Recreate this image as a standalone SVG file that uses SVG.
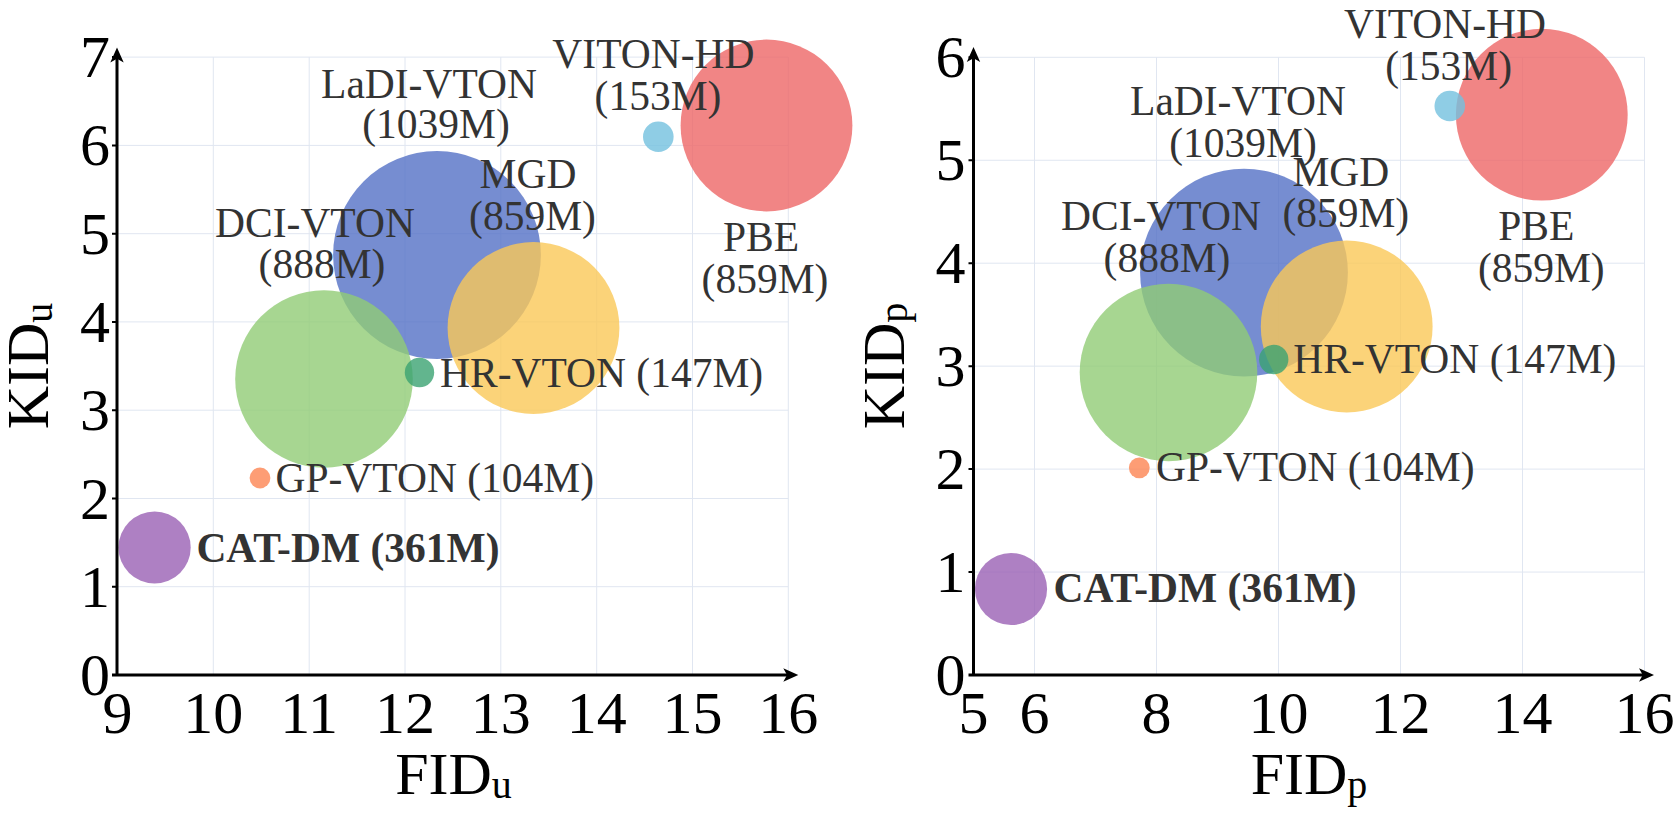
<svg xmlns="http://www.w3.org/2000/svg" width="1678" height="813" viewBox="0 0 1678 813">
<style>
.grid{stroke:#e0e6f1;stroke-width:1;fill:none}
.axis{stroke:#000;stroke-width:3;fill:none}
.tick{stroke:#000;stroke-width:2}
.tl{font-family:"Liberation Serif","Times New Roman",serif;font-size:60px;fill:#000}
.tly{text-anchor:end}
.tlx{text-anchor:middle}
.title{font-family:"Liberation Serif","Times New Roman",serif;font-size:60px;fill:#000;text-anchor:middle}
.sub{font-size:40px}
.lbl{font-family:"Liberation Serif","Times New Roman",serif;font-size:41.5px;fill:#333}
.c{text-anchor:middle}
.b{font-weight:bold}
.bub{fill-opacity:0.8}
</style>
<defs>
<path id="arrowR" d="M0,0 L-15,-6.7 L-11.25,0 L-15,6.7 Z" fill="#000"/>
<path id="arrowU" d="M0,0 L-6.7,15 L0,11.25 L6.7,15 Z" fill="#000"/>
</defs>

<!-- LEFT CHART -->
<g id="left-grid">
<path class="grid" d="M117,586.7H788.3M117,498.5H788.3M117,410.2H788.3M117,321.9H788.3M117,233.7H788.3M117,145.4H788.3M117,57.1H788.3"/>
<path class="grid" d="M213.3,57.1V675M309.2,57.1V675M405,57.1V675M500.8,57.1V675M596.7,57.1V675M692.5,57.1V675M788.3,57.1V675"/>
</g>
<g id="left-bubbles">
<circle id="l-pbe" class="bub" cx="766.5" cy="125.5" r="85.9" fill="#ee6666"/>
<circle id="l-viton" class="bub" cx="658.3" cy="136.7" r="15.3" fill="#73c0de"/>
<circle id="l-ladi" class="bub" cx="437" cy="255" r="103.9" fill="#5470c6"/>
<circle id="l-dci" class="bub" cx="324" cy="379" r="88.8" fill="#91cc75"/>
<circle id="l-mgd" class="bub" cx="533.5" cy="328" r="85.9" fill="#fac858"/>
<circle id="l-hr" class="bub" cx="419.5" cy="372.5" r="14.7" fill="#3ba272"/>
<circle id="l-gp" class="bub" cx="260" cy="478" r="10.4" fill="#fc8452"/>
<circle id="l-cat" class="bub" cx="154.6" cy="547.5" r="36.1" fill="#9a60b4"/>
</g>
<g id="left-axes">
<line class="axis" x1="117" y1="675" x2="117" y2="52"/>
<line class="axis" x1="112" y1="675" x2="792" y2="675"/>
<use href="#arrowU" x="117" y="47.5"/>
<use href="#arrowR" x="798.3" y="675"/>
<path class="tick" d="M112,586.7H117M112,498.5H117M112,410.2H117M112,321.9H117M112,233.7H117M112,145.4H117M112,57.1H117"/>
<g class="tl tly">
<text x="110" y="695">0</text>
<text x="110" y="606.7">1</text>
<text x="110" y="518.5">2</text>
<text x="110" y="430.2">3</text>
<text x="110" y="341.9">4</text>
<text x="110" y="253.7">5</text>
<text x="110" y="165.4">6</text>
<text x="110" y="77.1">7</text>
</g>
<g class="tl tlx">
<text x="117.5" y="733">9</text>
<text x="213.3" y="733">10</text>
<text x="309.2" y="733">11</text>
<text x="405" y="733">12</text>
<text x="500.8" y="733">13</text>
<text x="596.7" y="733">14</text>
<text x="692.5" y="733">15</text>
<text x="788.3" y="733">16</text>
</g>
<text class="title" x="453.5" y="794.3">FID<tspan class="sub" dy="3.5">u</tspan></text>
<text class="title" transform="translate(48,366) rotate(-90)">KID<tspan class="sub" dy="3.5">u</tspan></text>
</g>
<g id="left-labels" class="lbl">
<text class="c" x="429" y="98.3">LaDI-VTON</text>
<text class="c" x="436" y="138.3">(1039M)</text>
<text class="c" x="653.4" y="68.3">VITON-HD</text>
<text class="c" x="658" y="110">(153M)</text>
<text class="c" x="528" y="188.3">MGD</text>
<text class="c" x="532.5" y="230">(859M)</text>
<text class="c" x="761" y="250.7">PBE</text>
<text class="c" x="765" y="293.3">(859M)</text>
<text class="c" x="315" y="236.7">DCI-VTON</text>
<text class="c" x="322" y="278.3">(888M)</text>
<text x="440" y="386.7">HR-VTON (147M)</text>
<text x="275.5" y="491.7">GP-VTON (104M)</text>
<text class="b" x="196.4" y="561.7">CAT-DM (361M)</text>
</g>

<!-- RIGHT CHART -->
<g id="right-grid">
<path class="grid" d="M973.5,572.05H1644.5M973.5,469.1H1644.5M973.5,366.15H1644.5M973.5,263.2H1644.5M973.5,160.25H1644.5M973.5,57.3H1644.5"/>
<path class="grid" d="M1034.5,57.3V675M1156.5,57.3V675M1278.5,57.3V675M1400.5,57.3V675M1522.5,57.3V675M1644.5,57.3V675"/>
</g>
<g id="right-bubbles">
<circle id="r-pbe" class="bub" cx="1541.8" cy="114.7" r="85.9" fill="#ee6666"/>
<circle id="r-viton" class="bub" cx="1449.8" cy="106" r="15.3" fill="#73c0de"/>
<circle id="r-ladi" class="bub" cx="1244" cy="272.6" r="103.9" fill="#5470c6"/>
<circle id="r-dci" class="bub" cx="1168.5" cy="372.5" r="88.8" fill="#91cc75"/>
<circle id="r-mgd" class="bub" cx="1346.7" cy="326.5" r="85.9" fill="#fac858"/>
<circle id="r-hr" class="bub" cx="1273.7" cy="359.5" r="14.7" fill="#3ba272"/>
<circle id="r-gp" class="bub" cx="1139.3" cy="467.8" r="10.4" fill="#fc8452"/>
<circle id="r-cat" class="bub" cx="1011" cy="589" r="36.1" fill="#9a60b4"/>
</g>
<g id="right-axes">
<line class="axis" x1="973.5" y1="675" x2="973.5" y2="52"/>
<line class="axis" x1="968.5" y1="675" x2="1648" y2="675"/>
<use href="#arrowU" x="973.5" y="47"/>
<use href="#arrowR" x="1654" y="675"/>
<path class="tick" d="M968.5,572.05H973.5M968.5,469.1H973.5M968.5,366.15H973.5M968.5,263.2H973.5M968.5,160.25H973.5M968.5,57.3H973.5"/>
<g class="tl tly">
<text x="965.5" y="695">0</text>
<text x="965.5" y="592">1</text>
<text x="965.5" y="489.1">2</text>
<text x="965.5" y="386.2">3</text>
<text x="965.5" y="283.2">4</text>
<text x="965.5" y="180.3">5</text>
<text x="965.5" y="77.3">6</text>
</g>
<g class="tl tlx">
<text x="973.5" y="733">5</text>
<text x="1034.5" y="733">6</text>
<text x="1156.5" y="733">8</text>
<text x="1278.5" y="733">10</text>
<text x="1400.5" y="733">12</text>
<text x="1522.5" y="733">14</text>
<text x="1644.5" y="733">16</text>
</g>
<text class="title" x="1309" y="794.3">FID<tspan class="sub" dy="3.5">p</tspan></text>
<text class="title" transform="translate(903.5,366) rotate(-90)">KID<tspan class="sub" dy="3.5">p</tspan></text>
</g>
<g id="right-labels" class="lbl">
<text class="c" x="1445" y="38.3">VITON-HD</text>
<text class="c" x="1448.7" y="80">(153M)</text>
<text class="c" x="1238" y="115">LaDI-VTON</text>
<text class="c" x="1243" y="157">(1039M)</text>
<text class="c" x="1340.8" y="185.7">MGD</text>
<text class="c" x="1345.8" y="226.7">(859M)</text>
<text class="c" x="1536.3" y="240">PBE</text>
<text class="c" x="1541.3" y="281.7">(859M)</text>
<text class="c" x="1161" y="230">DCI-VTON</text>
<text class="c" x="1167" y="271.7">(888M)</text>
<text x="1293.3" y="372.7">HR-VTON (147M)</text>
<text x="1156" y="481">GP-VTON (104M)</text>
<text class="b" x="1053.5" y="601.7">CAT-DM (361M)</text>
</g>
</svg>
